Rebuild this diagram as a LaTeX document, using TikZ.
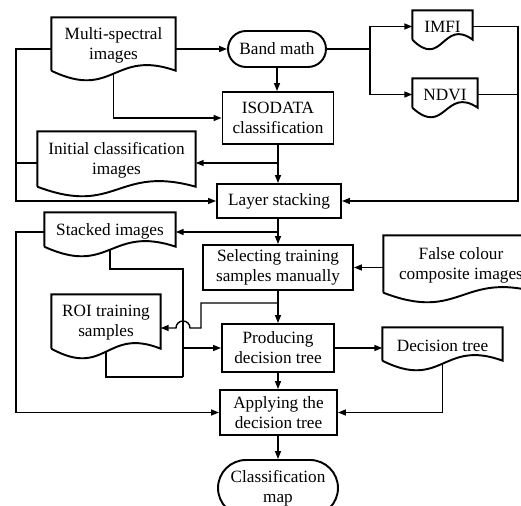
\documentclass[tikz,border=0pt]{standalone}
\usepackage{fontspec}
\setmainfont{Liberation Serif}
\usepackage{tikz}
\usetikzlibrary{arrows.meta,shapes.misc,calc}
\newcommand{\flowFont}{\fontsize{9.8}{11.4}\selectfont}
\newcommand{\docOutline}[1]{%
	\draw[line width=1.1pt] ([yshift=0.06cm]#1.south west) -- (#1.north west) -- (#1.north east) -- ([yshift=0.06cm]#1.south east)
		.. controls ([yshift=0.5cm]#1.south) and ([yshift=-0.54cm]#1.south) .. ([yshift=0.06cm]#1.south west);}

\begin{document}
\begin{tikzpicture}[x=0.02cm, y=-0.02cm, line width=0.8pt,
		every node/.style={font=\flowFont, align=center, inner sep=0pt},
		box/.style={draw, line width=1.1pt, rectangle},
		doc/.style={rectangle},
		term/.style={draw, line width=1.1pt, rounded rectangle},
		arr/.style={-{Triangle[length=1.6mm,width=1.2mm]}}]
	\useasboundingbox (0,0) rectangle (521,506);
		% inputs
		\node[doc, minimum width=2.46cm, minimum height=1.10cm] (ms) at (113.5,45.5) {Multi-spectral\\images};
		\node[term, minimum width=1.96cm, minimum height=0.72cm] (band) at (277,49) {Band math};
		\node[doc, minimum width=1.18cm, minimum height=0.62cm] (imfi) at (442.5,26.5) {IMFI};
		\node[doc, minimum width=1.28cm, minimum height=0.62cm] (ndvi) at (445,94.5) {NDVI};
		\node[box, minimum width=2.22cm, minimum height=1.04cm] (iso) at (278,118) {ISODATA\\classification};
		\node[doc, minimum width=3.14cm, minimum height=1.14cm] (init) at (116.5,160.5) {Initial classification\\images};
		\node[box, minimum width=2.48cm, minimum height=0.68cm] (stack) at (279,201) {Layer stacking};
		% training
		\node[doc, minimum width=2.60cm, minimum height=0.72cm] (stacked) at (110,231) {Stacked images};
		\node[box, minimum width=3.00cm, minimum height=0.90cm] (sel) at (278,267.5) {Selecting training\\samples manually};
		\node[doc, minimum width=3.08cm, minimum height=1.18cm] (fc) at (461,265.5) {False colour\\composite images};
		\node[doc, minimum width=2.16cm, minimum height=1.12cm] (roi) at (106,323) {ROI training\\samples};
		\node[box, minimum width=2.24cm, minimum height=0.96cm] (prod) at (278,348) {Producing\\decision tree};
		\node[doc, minimum width=2.38cm, minimum height=0.70cm] (dt) at (442.5,345.5) {Decision tree};
		\node[box, minimum width=2.34cm, minimum height=0.90cm] (apply) at (278.5,412.5) {Applying the\\decision tree};
		\node[term, minimum width=2.40cm, minimum height=1.12cm] (cmap) at (278,488) {Classification\\map};

		\foreach \d in {ms,imfi,ndvi,init,stacked,fc,roi,dt}
			\docOutline{\d};

		\coordinate (lb) at (16,0);
		\coordinate (rb) at (518,0);
		\coordinate (br) at (370,49);
		\coordinate (b1) at (278,163);
		\coordinate (b2) at (278,232);
		\coordinate (b3) at (278,303);
		\coordinate (sj) at (183,269);
		\coordinate (rj) at (183,377);
		\coordinate (hp) at (201,328);

		\draw[arr] (ms.east |- band.west) -- (band.west);
		\draw (band.east) -- (br);
		\draw[arr] (br) |- (imfi.west);
		\draw[arr] (br) |- (ndvi.west);
		\draw (imfi.east) -- (imfi.east -| rb);
		\draw (ndvi.east) -- (ndvi.east -| rb);
		\draw[arr] (imfi.east -| rb) |- (stack.east);
		\draw[arr] (band.south) -- (band.south |- iso.north);
		\draw[arr] (ms.south) |- (iso.west);
		\draw[arr] (iso.south) -- (iso.south |- stack.north);
		\draw[arr] (b1) -- (b1 -| init.east);
		\draw[arr] (ms.west |- band.west) -- (lb |- band.west) |- (stack.west);
		\draw (init.west |- b1) -- (lb |- b1);
		\draw[arr] (stack.south -| b2) -- (sel.north -| b2);
		\draw[arr] (b2) -- (b2 -| stacked.east);
		\draw[arr] (stacked.west |- b2) -- (lb |- b2) |- (apply.west);
		\draw (stacked.south) |- (sj) -- (rj);
		\draw (roi.south) |- (rj);
		\draw[arr] (sj |- prod.west) -- (prod.west);
		\draw[arr] (fc.west |- sel.east) -- (sel.east);
		\draw[arr] (sel.south) -- (prod.north);
		\draw[arr] (b3) -| (hp) -- (190,328) arc[start angle=0, end angle=180, radius=0.14cm] -- (roi.east |- hp);
		\draw[arr] (prod.east) -- (prod.east -| dt.west);
		\draw[arr] (prod.south) -- (prod.south |- apply.north);
		\draw[arr] (dt.south) |- (apply.east);
		\draw[arr] (apply.south -| cmap.north) -- (cmap.north);
	\end{tikzpicture}
\end{document}
